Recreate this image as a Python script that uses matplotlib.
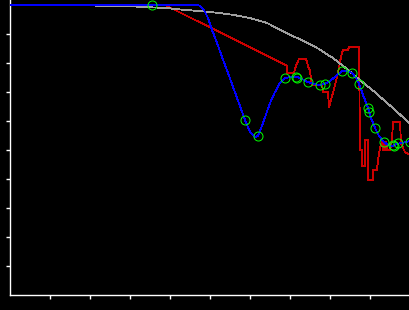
import numpy as np
import matplotlib
matplotlib.use('Agg')
import matplotlib.pyplot as plt

# Серая огибающая
gray_x = [0.0, 1.375, 2.825, 3.5, 3.875, 4.3, 4.75, 5.2, 5.575, 6.0, 6.425, 7.0, 7.3,
          7.7, 8.075, 8.425, 8.75, 9.1, 9.425, 9.575, 10.0]
gray_y = [0.999, 0.999, 0.997, 0.992, 0.990, 0.984, 0.979, 0.973, 0.966, 0.955, 0.938,
          0.897, 0.879, 0.850, 0.817, 0.779, 0.741, 0.702, 0.662, 0.645, 0.590]

# Красный "сырой" сигнал
red_x = [3.325, 3.875, 6.925, 6.925, 7.1, 7.15, 7.225, 7.4, 7.45, 7.5, 7.525, 7.55,
         7.8, 7.825, 7.95, 7.975, 8.075, 8.2, 8.275, 8.325, 8.45, 8.475, 8.7, 8.725,
         8.75, 8.8, 8.8, 8.875, 8.875, 8.95, 8.95, 9.075, 9.075, 9.175, 9.2, 9.25,
         9.3, 9.325, 9.35, 9.375, 9.4, 9.425, 9.5, 9.55, 9.575, 9.75, 9.775, 9.825,
         9.875, 10.0]
red_y = [1.0, 1.0, 0.790, 0.766, 0.766, 0.790, 0.814, 0.814, 0.790, 0.772, 0.748, 0.724,
         0.724, 0.700, 0.700, 0.648, 0.697, 0.766, 0.821, 0.845, 0.845, 0.855, 0.855, 0.855,
         0.5, 0.5, 0.445, 0.445, 0.534, 0.534, 0.397, 0.397, 0.431, 0.431, 0.466, 0.507,
         0.528, 0.5, 0.528, 0.5, 0.528, 0.5, 0.5, 0.534, 0.597, 0.597, 0.524, 0.507,
         0.493, 0.483]

# Синяя сглаженная кривая
blue_x = [0.0, 4.675, 4.75, 4.85, 4.95, 5.05, 5.175, 5.3, 5.45, 5.575, 5.75, 5.875,
          6.0, 6.125, 6.2, 6.325, 6.5, 6.625, 6.75, 6.875, 7.025, 7.175, 7.3, 7.45,
          7.6, 7.75, 7.875, 8.0, 8.15, 8.3, 8.425, 8.55, 8.65, 8.725, 8.825, 8.95,
          9.025, 9.125, 9.225, 9.35, 9.45, 9.575, 9.675, 9.8, 10.0]
blue_y = [1.0, 1.0, 0.997, 0.983, 0.955, 0.914, 0.869, 0.821, 0.766, 0.717, 0.652, 0.603,
          0.562, 0.545, 0.548, 0.593, 0.662, 0.700, 0.731, 0.748, 0.752, 0.752, 0.745, 0.734,
          0.728, 0.724, 0.728, 0.738, 0.755, 0.772, 0.772, 0.766, 0.748, 0.728, 0.690, 0.645,
          0.610, 0.576, 0.548, 0.528, 0.517, 0.514, 0.521, 0.524, 0.531]

# Зелёные точки
pts_x = [3.55, 5.875, 6.2, 6.875, 7.15, 7.175, 7.45, 7.75, 7.875, 8.3, 8.55, 8.725,
         8.95, 8.975, 9.125, 9.35, 9.575, 9.6, 9.7, 10.0]
pts_y = [1.0, 0.603, 0.548, 0.748, 0.752, 0.748, 0.734, 0.724, 0.728, 0.772, 0.766, 0.728,
         0.645, 0.631, 0.576, 0.528, 0.517, 0.514, 0.524, 0.528]

fig = plt.figure(figsize=(4.1, 3.1), dpi=100, facecolor='black')
ax = fig.add_axes([10 / 410, 15 / 310, 400 / 410, 295 / 310])
ax.set_facecolor('black')

ax.plot(red_x, red_y, color='#cc0000', linewidth=0.6, antialiased=False, zorder=2)
ax.plot(gray_x, gray_y, color='#a0a0a0', linewidth=0.6, antialiased=False, zorder=3)
ax.plot(blue_x, blue_y, color='#0000ff', linewidth=0.6, antialiased=False, zorder=4)
ax.plot(pts_x, pts_y, linestyle='none', marker='o', markersize=6.5,
        markerfacecolor='none', markeredgecolor='#00ff00', markeredgewidth=0.7,
        antialiased=False, zorder=5, clip_on=False)

ax.set_xlim(0, 10)
ax.set_ylim(0, 1.0172)
ax.set_xticks(np.arange(1, 10))
ax.set_yticks(np.arange(1, 10) / 10)
ax.tick_params(colors='white', direction='out', length=3, width=1,
               labelbottom=False, labelleft=False)

for side in ['top', 'right']:
    ax.spines[side].set_visible(False)
for side in ['left', 'bottom']:
    ax.spines[side].set_color('white')
    ax.spines[side].set_linewidth(1)

fig.savefig('out.png', dpi=100, facecolor='black')
